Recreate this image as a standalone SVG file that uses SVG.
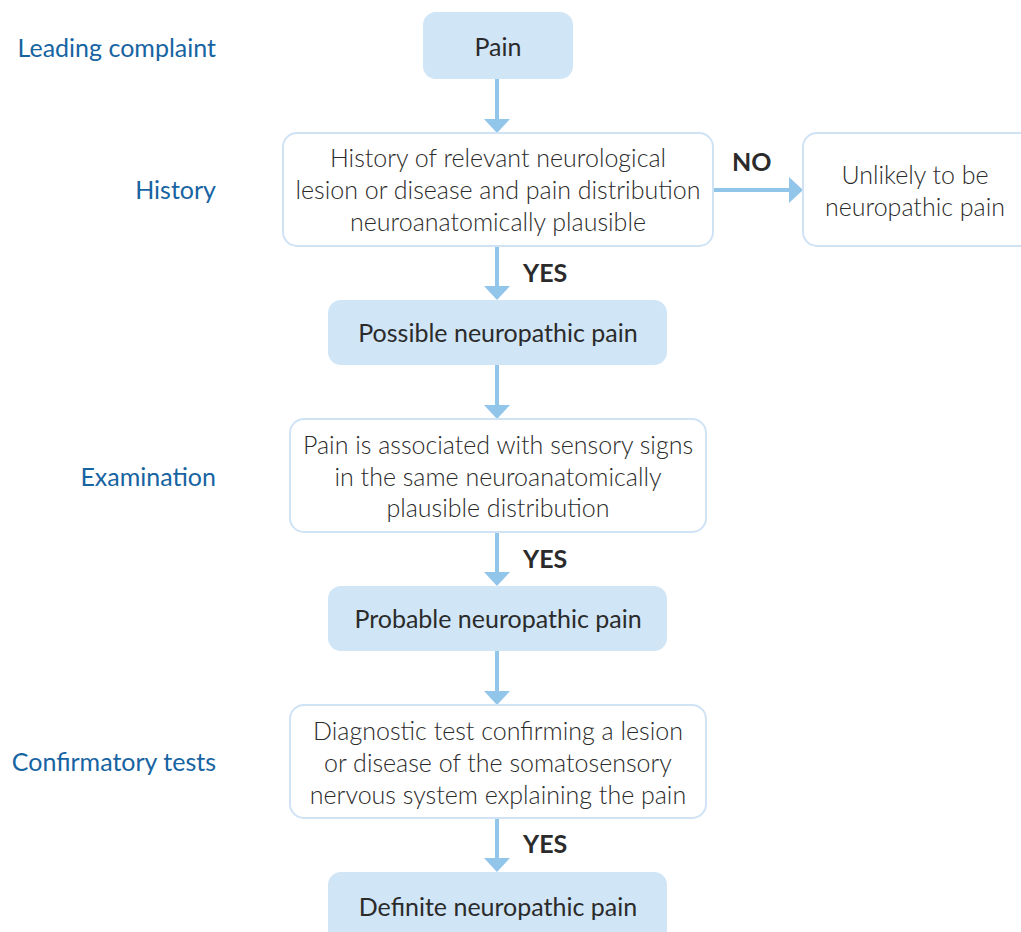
<svg xmlns="http://www.w3.org/2000/svg" width="1021" height="932" viewBox="0 0 1021 932">
<style>
.fill{fill:#d0e5f6;stroke:none}
.out{fill:#fff;stroke:#cfe3f5;stroke-width:2}
.t{font-family:Lato,"Noto Sans",sans-serif;font-size:25px;fill:#2b2b2b;text-anchor:middle;font-weight:300}
.tf{font-family:Lato,"Noto Sans",sans-serif;font-size:25px;fill:#2b2b2b;text-anchor:middle;font-weight:400}
.lab{font-family:Lato,"Noto Sans",sans-serif;font-size:25px;fill:#1764a2;text-anchor:end;font-weight:400}
.yn{font-family:Lato,"Noto Sans",sans-serif;font-size:25px;fill:#2b2b2b;font-weight:700}
.ln{stroke:#92c5ea;stroke-width:4;fill:none}
.ah{fill:#92c5ea}
</style>
<rect width="1021" height="932" fill="#fff"/>
<g id="labels">
<text class="lab" x="216" y="57">Leading complaint</text>
<text class="lab" x="216" y="199">History</text>
<text class="lab" x="216" y="486">Examination</text>
<text class="lab" x="216" y="771">Confirmatory tests</text>
</g>
<g id="connectors">
<line class="ln" x1="497" y1="79" x2="497" y2="121"/><polygon class="ah" points="484,119 510,119 497,133"/>
<line class="ln" x1="497" y1="246" x2="497" y2="288"/><polygon class="ah" points="484,286 510,286 497,300"/>
<line class="ln" x1="497" y1="365" x2="497" y2="407"/><polygon class="ah" points="484,405 510,405 497,419"/>
<line class="ln" x1="497" y1="532" x2="497" y2="574"/><polygon class="ah" points="484,572 510,572 497,586"/>
<line class="ln" x1="497" y1="651" x2="497" y2="693"/><polygon class="ah" points="484,691 510,691 497,705"/>
<line class="ln" x1="497" y1="818" x2="497" y2="860"/><polygon class="ah" points="484,858 510,858 497,872"/>
<line class="ln" x1="713" y1="190" x2="791" y2="190"/><polygon class="ah" points="789,177 789,203 803,190"/>
<text class="yn" x="732" y="171">NO</text>
<text class="yn" x="523" y="282">YES</text>
<text class="yn" x="523" y="568">YES</text>
<text class="yn" x="523" y="853">YES</text>
</g>
<g id="pain"><rect class="fill" x="423" y="12" width="150" height="67" rx="13"/><text class="tf" x="498" y="56">Pain</text></g>
<g id="history"><rect class="out" x="283" y="133" width="430" height="113" rx="14"/>
<text class="t" x="498" y="167">History of relevant neurological</text>
<text class="t" x="498" y="199">lesion or disease and pain distribution</text>
<text class="t" x="498" y="231">neuroanatomically plausible</text></g>
<g id="unlikely"><rect class="out" x="803" y="133" width="240" height="113" rx="14"/>
<text class="t" x="915" y="184">Unlikely to be</text>
<text class="t" x="915" y="216">neuropathic pain</text></g>
<g id="possible"><rect class="fill" x="328" y="300" width="339" height="65" rx="13"/><text class="tf" x="498" y="342">Possible neuropathic pain</text></g>
<g id="examination"><rect class="out" x="290" y="419" width="416" height="113" rx="14"/>
<text class="t" x="498" y="454">Pain is associated with sensory signs</text>
<text class="t" x="498" y="486">in the same neuroanatomically</text>
<text class="t" x="498" y="517">plausible distribution</text></g>
<g id="probable"><rect class="fill" x="328" y="586" width="339" height="65" rx="13"/><text class="tf" x="498" y="628">Probable neuropathic pain</text></g>
<g id="diagnostic"><rect class="out" x="290" y="705" width="416" height="113" rx="14"/>
<text class="t" x="498" y="740">Diagnostic test confirming a lesion</text>
<text class="t" x="498" y="772">or disease of the somatosensory</text>
<text class="t" x="498" y="804">nervous system explaining the pain</text></g>
<g id="definite"><rect class="fill" x="328" y="872" width="339" height="80" rx="13"/><text class="tf" x="498" y="916">Definite neuropathic pain</text></g>
</svg>
